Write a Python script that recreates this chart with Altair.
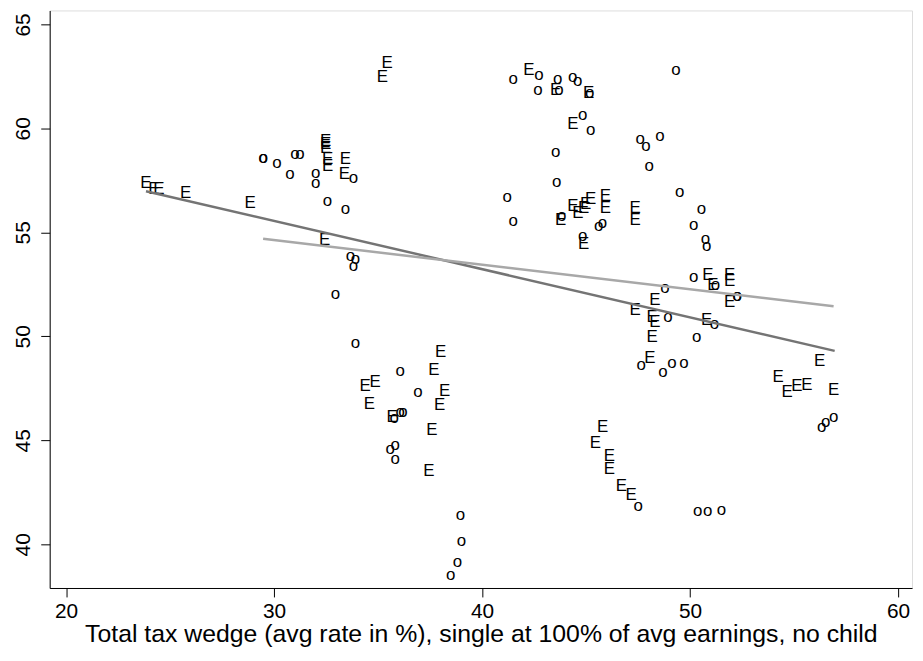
import altair as alt
import pandas as pd

# "E" markers
e_x = [23.84, 24.22, 24.46, 25.75, 28.85, 32.43, 32.48, 32.48, 32.48, 32.57, 32.57, 33.43, 33.38,
       35.43, 35.20,
       38.01, 37.68, 34.86, 34.38, 38.20, 34.58, 37.96, 35.67, 37.58, 37.44,
       42.25, 43.54, 45.12, 44.36,
       43.78, 44.36, 44.60, 44.88, 44.98, 45.22, 45.93, 45.93, 47.36, 47.36, 44.88,
       50.85, 51.90, 51.90, 51.09, 51.90, 48.31, 47.36, 48.17, 48.31, 50.80, 48.17, 48.07,
       45.79, 45.45, 46.12, 46.12, 46.70, 47.17,
       56.23, 54.23, 54.66, 55.13, 55.61, 56.90]
e_y = [57.37, 57.08, 57.08, 56.89, 56.41, 54.65, 59.37, 59.23, 59.04, 58.51, 58.18, 58.51, 57.80,
       63.14, 62.47,
       49.26, 48.40, 47.82, 47.59, 47.35, 46.73, 46.68, 46.11, 45.49, 43.53,
       62.81, 61.85, 61.71, 60.23,
       55.60, 56.27, 55.93, 56.17, 56.36, 56.60, 56.75, 56.17, 56.17, 55.60, 54.46,
       52.93, 52.93, 52.64, 52.45, 51.64, 51.74, 51.26, 50.93, 50.69, 50.78, 49.97, 48.97,
       45.63, 44.87, 44.25, 43.63, 42.81, 42.39,
       48.83, 48.06, 47.30, 47.63, 47.68, 47.40]

# "o" markers
o_x = [29.47, 29.47, 30.14, 30.76, 31.00, 31.24, 32.00, 32.00, 33.81, 32.57, 33.43,
       33.67, 33.91, 33.81, 32.95, 33.91,
       36.06, 36.92, 35.77, 36.06, 36.20, 35.82, 35.58, 35.82,
       38.96, 39.01, 38.82, 38.49,
       41.49, 42.73, 42.69, 43.69, 43.64, 44.36, 44.60, 45.17, 49.32,
       44.84, 45.22, 43.54, 47.60, 47.88, 48.55, 48.03, 43.59,
       41.21, 41.49, 43.83, 45.60, 45.79, 44.84,
       49.50, 50.55, 50.17, 50.74, 50.80,
       50.17, 51.22, 52.27, 52.27, 48.79, 48.93, 50.32, 51.17,
       47.65, 48.70, 49.13, 49.70,
       47.50, 50.36, 50.84, 51.51,
       56.33, 56.52, 56.90]
o_y = [58.56, 58.56, 58.32, 57.80, 58.75, 58.75, 57.84, 57.37, 57.60, 56.51, 56.13,
       53.84, 53.74, 53.36, 52.02, 49.69,
       48.35, 47.30, 46.06, 46.35, 46.35, 44.77, 44.58, 44.10,
       41.43, 40.14, 39.14, 38.52,
       62.38, 62.57, 61.85, 61.85, 62.38, 62.47, 62.28, 61.71, 62.81,
       60.66, 59.94, 58.85, 59.47, 59.13, 59.61, 58.18, 57.41,
       56.70, 55.55, 55.79, 55.32, 55.46, 54.84,
       56.94, 56.13, 55.36, 54.69, 54.36,
       52.83, 52.45, 51.93, 51.93, 52.31, 50.93, 49.97, 50.59,
       48.64, 48.30, 48.73, 48.73,
       41.86, 41.62, 41.62, 41.67,
       45.63, 45.87, 46.11]

# fitted lines (endpoints)
fit_e_x = [23.84, 56.95]
fit_e_y = [56.98, 49.30]
fit_o_x = [29.47, 56.90]
fit_o_y = [54.69, 51.45]

x_ticks = [20, 30, 40, 50, 60]
y_ticks = [40, 45, 50, 55, 60, 65]
x_title = "Total tax wedge (avg rate in %), single at 100% of avg earnings, no child"

FONT = "Liberation Sans"

pts = pd.DataFrame({
    "x": e_x + o_x,
    "y": e_y + o_y,
    "lab": ["E"] * len(e_x) + ["o"] * len(o_x),
})
fits = pd.DataFrame({
    "x": fit_e_x + fit_o_x,
    "y": fit_e_y + fit_o_y,
    "series": ["E fit"] * 2 + ["o fit"] * 2,
})

xscale = alt.Scale(domain=[19.21, 60.67], nice=False, zero=False)
yscale = alt.Scale(domain=[37.90, 65.67], nice=False, zero=False)

xaxis = alt.Axis(values=x_ticks, title=x_title, grid=False, format="d",
                 labelFontSize=21, titleFontSize=25, labelFont=FONT, titleFont=FONT,
                 titleFontWeight="normal", labelColor="black", titleColor="black",
                 domainColor="black", tickColor="black", tickSize=9, labelPadding=4,
                 titlePadding=0, labelFlush=False)
yaxis = alt.Axis(values=y_ticks, title=None, grid=False, format="d",
                 labelFontSize=21, labelFont=FONT, labelColor="black",
                 labelAngle=-90, labelAlign="center", labelBaseline="bottom",
                 domainColor="black", tickColor="black", tickSize=9, labelPadding=7,
                 labelFlush=False)

points = alt.Chart(pts).mark_text(font=FONT, fontSize=17, color="black",
                                  align="center", baseline="middle").encode(
    x=alt.X("x:Q", scale=xscale, axis=xaxis),
    y=alt.Y("y:Q", scale=yscale, axis=yaxis),
    text="lab:N",
)

lines = alt.Chart(fits).mark_line(strokeWidth=2.5).encode(
    x=alt.X("x:Q", scale=xscale),
    y=alt.Y("y:Q", scale=yscale),
    detail="series:N",
    color=alt.Color("series:N", scale=alt.Scale(domain=["E fit", "o fit"],
                                                range=["#747474", "#a8a8a8"]),
                    legend=None),
)

chart = alt.layer(points, lines).properties(
    width=869, height=582,
    autosize=alt.AutoSizeParams(type="none"),
    padding={"left": 42, "top": 0, "right": 3, "bottom": 60},
).configure_view(stroke="black", strokeWidth=1.5).configure(background="white")

chart.save("out.html", embed_options={"renderer": "svg", "actions": False})
